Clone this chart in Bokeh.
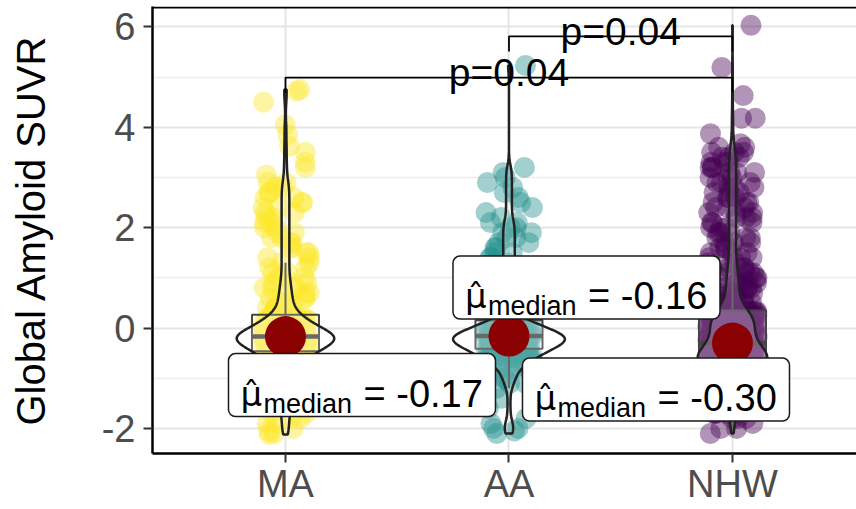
import numpy as np
from bokeh.plotting import figure
from bokeh.models import Range1d, FixedTicker, ColumnDataSource, Span, Rect
from bokeh.transform import jitter
from bokeh.core.properties import value
from bokeh.embed import file_html
from bokeh.resources import INLINE

# ---------------- data (value -> number of subjects) ----------------
GROUPS = ["MA", "AA", "NHW"]
COLORS = ["#FDE725", "#21908C", "#440154"]

MA_VALUES = [4.75, 4.72, 4.5, 4.05, 3.85, 3.62, 3.5, 3.3, 3.2, 3.05,
             2.9, 2.8, 2.7, 2.6, 2.5, 2.4, 2.3, 2.2, 2.1, 2.0,
             1.9, 1.8, 1.7, 1.6, 1.5, 1.4, 1.3, 1.2, 1.1, 1.0,
             0.9, 0.8, 0.7, 0.6, 0.5, 0.4, 0.3,
             0.25, 0.2, 0.15, 0.1, 0.05, 0.0, -0.05, -0.1, -0.15, -0.17,
             -0.2, -0.25, -0.3, -0.35, -0.4, -0.45,
             -0.5, -0.55, -0.6, -0.7, -0.8, -0.9, -1.0, -1.1, -1.2, -1.3,
             -1.4, -1.5, -1.6, -1.7, -1.8, -1.9, -2.0, -2.05, -2.1, -2.12]
MA_COUNTS = [1, 1, 1, 1, 1, 1, 1, 1, 1, 1,
             2, 2, 2, 2, 2, 2, 2, 2, 2, 2,
             2, 2, 2, 2, 2, 2, 2, 2, 2, 2,
             3, 3, 3, 4, 4, 4, 4,
             4, 5, 6, 7, 8, 9, 10, 11, 12, 8,
             16, 15, 13, 11, 9, 6,
             10, 9, 6, 6, 6, 5, 4, 4, 3, 3,
             3, 3, 3, 2, 2, 2, 1, 1, 1, 1]

AA_VALUES = [5.23, 3.2, 3.1, 3.0, 2.9, 2.8, 2.7, 2.6, 2.5, 2.4, 2.3, 2.2,
             2.1, 2.0, 1.9, 1.8, 1.7, 1.6, 1.5, 1.4, 1.3, 1.2, 1.1,
             1.0, 0.9, 0.8, 0.7, 0.6, 0.5, 0.4, 0.3, 0.2,
             0.14, 0.1, 0.05, 0.0, -0.05, -0.1, -0.15, -0.16,
             -0.2, -0.25, -0.3, -0.35, -0.4,
             -0.45, -0.5, -0.55, -0.6, -0.65, -0.7, -0.8, -0.9, -1.0,
             -1.1, -1.2, -1.4, -1.6, -1.8, -1.9, -2.0, -2.05, -2.1]
AA_COUNTS = [1, 1, 1, 1, 1, 1, 1, 1, 1, 1, 1, 1,
             2, 2, 2, 2, 2, 2, 2, 2, 2, 2, 2,
             2, 2, 2, 2, 2, 2, 2, 1, 1,
             5, 5, 6, 6, 7, 7, 7, 10,
             9, 10, 10, 9, 9,
             6, 6, 5, 5, 4, 4, 4, 3, 2,
             2, 1, 1, 1, 1, 1, 2, 1, 1]

NHW_VALUES = [6.03, 5.19, 4.63, 4.18, 3.87, 3.67, 3.6, 3.5, 3.4,
              3.3, 3.2, 3.1, 3.0, 2.9, 2.8, 2.7, 2.6, 2.5, 2.4, 2.3,
              2.2, 2.1, 2.0, 1.9, 1.8, 1.7, 1.6, 1.5, 1.4, 1.3,
              1.2, 1.1, 1.0, 0.9, 0.8, 0.7, 0.6, 0.5, 0.4,
              0.33, 0.3, 0.25, 0.2, 0.15, 0.1, 0.05, 0.0, -0.05, -0.1, -0.15,
              -0.2, -0.25, -0.3,
              -0.35, -0.4, -0.45, -0.5, -0.55, -0.6, -0.65, -0.67,
              -0.7, -0.75, -0.8, -0.85, -0.9, -1.0, -1.1, -1.2, -1.3,
              -1.4, -1.5, -1.6, -1.7, -1.8, -1.9, -2.0, -2.1]
NHW_COUNTS = [1, 1, 1, 2, 1, 1, 2, 3, 3,
              3, 3, 3, 3, 3, 3, 3, 3, 3, 3, 3,
              3, 3, 3, 3, 3, 3, 3, 3, 3, 3,
              5, 5, 5, 5, 6, 6, 6, 6, 3,
              10, 10, 10, 10, 10, 10, 10, 10, 10, 10, 10,
              8, 4, 8,
              15, 16, 16, 16, 16, 15, 14, 12,
              17, 15, 13, 13, 12, 9, 8, 7, 6,
              5, 5, 4, 4, 3, 1, 2, 1]

Y_TICKS = [-2, 0, 2, 4, 6]
Y_TICK_LABELS = ["-2", "0", "2", "4", "6"]
Y_MINOR = [-1, 1, 3, 5]
Y_TITLE = "Global Amyloid SUVR"
# pairwise comparisons: (group a, group b, bracket level, label)
COMPARISONS = [(1, 3, 4.99, "p=0.04"), (2, 3, 5.81, "p=0.04")]

SERIES = [np.repeat(MA_VALUES, MA_COUNTS), np.repeat(AA_VALUES, AA_COUNTS),
          np.repeat(NHW_VALUES, NHW_COUNTS)]

# ---------------- layout / style ----------------
FONT = "Liberation Sans"
W, H = 856, 509
BL, BT, BB, BR = 152, 6, 56, 0
X0 = 0.405
X1 = X0 + (W - BL - BR) / 223.5
Y1 = 6.405
Y0 = Y1 - (H - BT - BB) / 50.2
# label box placement (screen px, relative to group/median point)
LABEL_BOX = [(-57, 17), (-56, -80), (-210, 15)]   # (left offset, top offset)
BOX_W, BOX_H = 267, 63

p = figure(width=W, height=H, x_range=Range1d(X0, X1), y_range=Range1d(Y0, Y1),
           output_backend="svg", toolbar_location=None,
           min_border_left=BL, min_border_right=BR, min_border_top=BT, min_border_bottom=BB)
p.outline_line_color = None
p.background_fill_color = "white"
p.border_fill_color = "white"

# axes
p.xaxis.ticker = FixedTicker(ticks=[1, 2, 3])
p.xaxis.major_label_overrides = {i + 1: g for i, g in enumerate(GROUPS)}
p.yaxis.ticker = FixedTicker(ticks=Y_TICKS, minor_ticks=Y_MINOR)
p.yaxis.major_label_overrides = dict(zip(Y_TICKS, Y_TICK_LABELS))
for ax in (p.xaxis[0], p.yaxis[0]):
    ax.axis_line_color = "black"
    ax.axis_line_width = 2.5
    ax.major_tick_line_color = "#333333"
    ax.major_tick_line_width = 2
    ax.major_tick_out = 9
    ax.major_tick_in = 0
    ax.minor_tick_line_color = None
    ax.major_label_text_font = FONT
    ax.major_label_text_color = "#4D4D4D"
    ax.major_label_text_font_size = "38px"
p.xaxis.major_label_standoff = 0
p.yaxis.major_label_standoff = 8
p.yaxis.axis_label = Y_TITLE
p.yaxis.axis_label_text_font = FONT
p.yaxis.axis_label_text_font_style = "normal"
p.yaxis.axis_label_text_font_size = "40px"
p.yaxis.axis_label_text_color = "black"
p.yaxis.axis_label_standoff = 46

# grid
p.xgrid.grid_line_color = "#E5E5E5"
p.xgrid.grid_line_width = 2
p.ygrid.grid_line_color = "#E5E5E5"
p.ygrid.grid_line_width = 2
p.ygrid.minor_grid_line_color = "#EDEDED"
p.ygrid.minor_grid_line_width = 1.3

# top border line
p.add_layout(Span(location=Y1 - 1.0 / 50.2, dimension="width", line_color="black", line_width=2))

# ---------------- jittered points ----------------
for i, (vals, col) in enumerate(zip(SERIES, COLORS)):
    src = ColumnDataSource(dict(x=[i + 1] * len(vals), y=list(vals)))
    p.scatter(x=jitter("x", width=0.22, distribution="uniform"), y="y", source=src,
              size=21, fill_color=col, fill_alpha=0.42, line_color=None)

# ---------------- box plots ----------------
stats = []
for i, v in enumerate(SERIES):
    q1, med, q3 = np.percentile(v, [25, 50, 75])
    iqr = q3 - q1
    lo = v[v >= q1 - 1.5 * iqr].min()
    hi = v[v <= q3 + 1.5 * iqr].max()
    stats.append((q1, med, q3, lo, hi))
    c = i + 1
    p.quad(left=c - 0.15, right=c + 0.15, bottom=q1, top=q3, fill_color="white",
           fill_alpha=0.2, line_color="#444444", line_width=2)
    p.segment(x0=[c, c], y0=[q3, q1], x1=[c, c], y1=[hi, lo], line_color="#444444", line_width=2)
    p.segment(x0=[c - 0.15], y0=[med], x1=[c + 0.15], y1=[med], line_color="#444444", line_width=4.5)

# ---------------- violins ----------------
def kde(v):
    n = len(v)
    sd = v.std(ddof=1)
    iqr = np.subtract(*np.percentile(v, [75, 25]))
    bw = 0.9 * min(sd, iqr / 1.34) * n ** -0.2
    grid = np.linspace(v.min(), v.max(), 512)
    d = np.exp(-0.5 * ((grid[:, None] - v[None, :]) / bw) ** 2).sum(1) / (n * bw * np.sqrt(2 * np.pi))
    return grid, d

kdes = [kde(v) for v in SERIES]
dmax = max(d.max() for _, d in kdes)
for i, (grid, d) in enumerate(kdes):
    c = i + 1
    half = d / dmax * 0.25
    xs = np.concatenate([c - half, (c + half)[::-1]])
    ys = np.concatenate([grid, grid[::-1]])
    p.patch(xs, ys, fill_color="white", fill_alpha=0.2, line_color="#222222", line_width=2.5)

# ---------------- significance brackets ----------------
TIP = 0.3
for a, b, yb, lab in COMPARISONS:
    p.line(x=[a, a, b, b], y=[yb - TIP, yb, yb, yb - TIP], line_color="black", line_width=1.8)
    p.text(x=[(a + b) / 2], y=[yb], text=[lab], text_align="center", text_baseline="alphabetic",
           y_offset=-5, text_font=value(FONT), text_font_size="39px", text_color="black")

# ---------------- median points ----------------
meds = [s[1] for s in stats]
p.scatter(x=[1, 2, 3], y=meds, size=41, fill_color="#8B0000", line_color=None)

# ---------------- median labels ----------------
PX_X = (W - BL - BR) / (X1 - X0)
PX_Y = (H - BT - BB) / (Y1 - Y0)
rect_kw = {"border_radius": 7} if "border_radius" in Rect.properties() else {}
for i, m in enumerate(meds):
    lo_x, top_y = LABEL_BOX[i]
    cx = (i + 1) + (lo_x + BOX_W / 2) / PX_X
    cy = m - (top_y + BOX_H / 2) / PX_Y
    p.rect(x=[cx], y=[cy], width=BOX_W, height=BOX_H, width_units="screen", height_units="screen",
           fill_color="white", line_color="#1A1A1A", line_width=1.5, **rect_kw)
    left = -BOX_W / 2
    p.text(x=[cx], y=[cy], text=["\u03bc\u0302"], x_offset=left + 12, y_offset=8.5,
           text_font=value("DejaVu Sans"), text_font_size="34px", text_baseline="alphabetic",
           text_color="black")
    p.text(x=[cx], y=[cy], text=["median"], x_offset=left + 35, y_offset=18.5,
           text_font=value(FONT), text_font_size="27px", text_baseline="alphabetic", text_color="black")
    p.text(x=[cx], y=[cy], text=["= %.2f" % m], x_offset=left + 135, y_offset=8.5,
           text_font=value(FONT), text_font_size="38px", text_baseline="alphabetic", text_color="black")

open("out.html", "w").write(file_html(p, INLINE))
